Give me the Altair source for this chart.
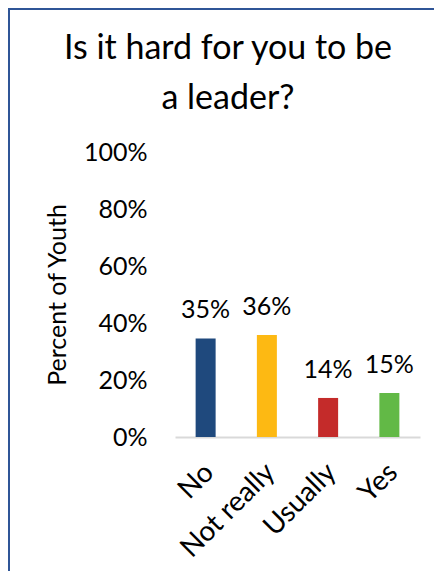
import altair as alt
import pandas as pd

categories = ["No", "Not really", "Usually", "Yes"]
values = [0.346, 0.358, 0.137, 0.154]
colors = ["#1F497D", "#FDB913", "#C42B2A", "#62B946"]
y_ticks = [0, 0.2, 0.4, 0.6, 0.8, 1.0]
title_lines = ["Is it hard for you to be", "a leader?"]

df = pd.DataFrame({"cat": categories, "val": values, "color": colors})
frame = pd.DataFrame({"k": [0]})

W, H = 245, 285
PL, PT = 167, 144
PR = 426 - PL - W
PB = 563 - PT - H
FONT = "Lato"

x = alt.X(
    "cat:N", sort=categories,
    scale=alt.Scale(paddingInner=0, paddingOuter=0),
    axis=alt.Axis(title=None, labelAngle=-45, labelAlign="right", labelBaseline="middle",
                  labelFont=FONT, labelFontSize=28, labelColor="black", labelPadding=31,
                  labelOffset=4,
                  ticks=False, domainColor="#D9D9D9", domainWidth=2),
)
y = alt.Y(
    "val:Q", scale=alt.Scale(domain=[0, 1]),
    axis=alt.Axis(values=y_ticks, format=".0%", title="Percent of Youth",
                  titleFont=FONT, titleFontSize=25, titleFontWeight="normal", titleColor="black",
                  labelFont=FONT, labelFontSize=25, labelColor="black", labelPadding=28,
                  ticks=False, domain=False, grid=False, titlePadding=13),
)

bars = alt.Chart(df).mark_bar(size=20).encode(x=x, y=y, color=alt.Color("color:N", scale=None))
labels = alt.Chart(df).mark_text(font=FONT, fontSize=25, baseline="alphabetic", dy=-20, color="black").encode(
    x=x, y=y, text=alt.Text("val:Q", format=".0%"))

left_border = alt.Chart(frame).mark_rule(color="#2F5597", strokeWidth=2).encode(
    x=alt.value(-PL + 1), y=alt.value(-PT), y2=alt.value(H + PB))
top_border = alt.Chart(frame).mark_rule(color="#2F5597", strokeWidth=2).encode(
    y=alt.value(-PT + 1), x=alt.value(-PL), x2=alt.value(W + PR))

chart = alt.layer(bars, labels, left_border, top_border).properties(
    width=W, height=H,
    autosize=alt.AutoSizeParams(type="none"),
    padding={"left": PL, "top": PT, "right": PR, "bottom": PB},
    title=alt.TitleParams(text=title_lines, font=FONT, fontSize=34, fontWeight="normal",
                          color="black", lineHeight=50, anchor="middle", dx=-69.5,
                          baseline="top", offset=0, dy=109),
).configure(background="white", view=alt.ViewConfig(strokeWidth=0))

chart.save("out.html", embed_options={"renderer": "svg", "actions": False})
